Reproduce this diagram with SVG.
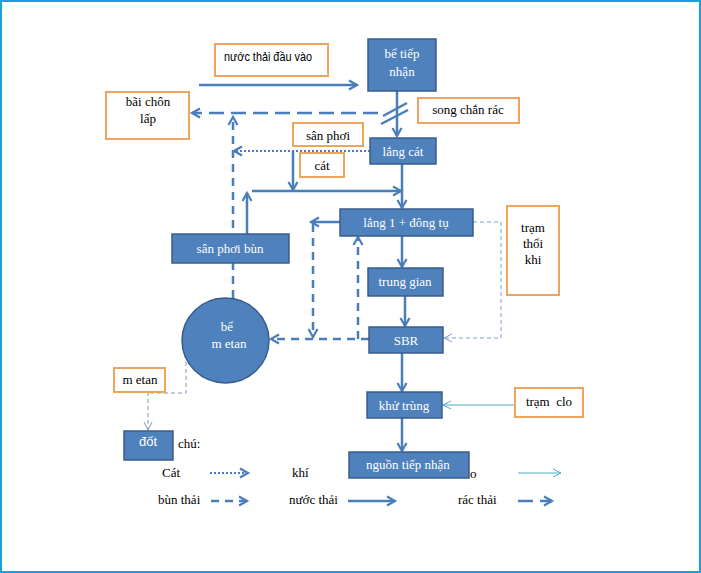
<svg xmlns="http://www.w3.org/2000/svg" width="701" height="573" viewBox="0 0 701 573">
<defs>
<marker id="ah" markerUnits="userSpaceOnUse" markerWidth="14" markerHeight="14" refX="10" refY="6" orient="auto">
<path d="M2,1.5 L10,6 L2,10.5" fill="none" stroke="#4A7EBB" stroke-width="2.2"/>
</marker>
<marker id="ahThin" markerUnits="userSpaceOnUse" markerWidth="14" markerHeight="14" refX="10" refY="6" orient="auto">
<path d="M2,2 L10,6 L2,10" fill="none" stroke="#7F9FCF" stroke-width="1"/>
</marker>
<marker id="ahClo" markerUnits="userSpaceOnUse" markerWidth="14" markerHeight="14" refX="10" refY="6" orient="auto">
<path d="M2,2 L10,6 L2,10" fill="none" stroke="#4BACC6" stroke-width="1"/>
</marker>
<marker id="ahGray" markerUnits="userSpaceOnUse" markerWidth="14" markerHeight="14" refX="10" refY="6" orient="auto">
<path d="M2,2 L10,6 L2,10" fill="none" stroke="#8096B4" stroke-width="1"/>
</marker>
</defs>
<style>
.blue{fill:#4F81BD;stroke:#385D8A;stroke-width:1.5}
.orange{fill:#FFFFFF;stroke:#EDA45C;stroke-width:2}
.wt{font-family:"Liberation Serif",serif;font-size:13px;fill:#FFFFFF;text-anchor:middle}
.bt{font-family:"Liberation Serif",serif;font-size:13px;fill:#000000;text-anchor:middle}
.lt{font-family:"Liberation Serif",serif;font-size:13px;fill:#000000}
.sans{font-family:"Liberation Sans",sans-serif}
.solid{fill:none;stroke:#4A7EBB;stroke-width:2.5;marker-end:url(#ah)}
.plain{fill:none;stroke:#4A7EBB;stroke-width:2.5}
.mud{fill:none;stroke:#4A7EBB;stroke-width:2.5;stroke-dasharray:8,6;marker-end:url(#ah)}
.trash{fill:none;stroke:#4A7EBB;stroke-width:2.5;stroke-dasharray:15,7;marker-end:url(#ah)}
.sand{fill:none;stroke:#4A7EBB;stroke-width:2;stroke-dasharray:2,2;marker-end:url(#ah)}
.air{fill:none;stroke:#7F9FCF;stroke-width:1;stroke-dasharray:4,3;marker-end:url(#ahThin)}
.clo{fill:none;stroke:#4BACC6;stroke-width:1;marker-end:url(#ahClo)}
.gas{fill:none;stroke:#8096B4;stroke-width:1;stroke-dasharray:4,3}
</style>
<rect x="1" y="1" width="699" height="571" fill="#FFFFFF" stroke="#1E9FDB" stroke-width="2"/>

<g id="connectors">
<path class="solid" d="M199,85 H357"/>
<path class="solid" d="M397,91 V136"/>
<path class="plain" d="M383,116 L407,103" stroke-width="2"/>
<path class="plain" d="M381,124 L408,110" stroke-width="2"/>
<path class="trash" d="M378,113 H192"/>
<path class="mud" d="M233,298 V117"/>
<path class="sand" d="M370,151 H234"/>
<path class="solid" d="M293,151 V190"/>
<path class="solid" d="M252,191 H401"/>
<path class="solid" d="M247,234 V193"/>
<path class="solid" d="M402,164 V208"/>
<path class="solid" d="M340,222 H311"/>
<path class="mud" d="M313,224 V337"/>
<path class="mud" d="M369,339 H271"/>
<path class="mud" d="M358,339 V237"/>
<path class="solid" d="M402,236 V267"/>
<path class="solid" d="M405,296 V326"/>
<path class="air" d="M473,222 H501 V338 H444"/>
<path class="solid" d="M402,353 V391"/>
<path class="solid" d="M402,418 V451"/>
<path class="clo" d="M515,405 H443"/>
<path class="gas" d="M186,362 V393 H148"/>
<path class="gas" d="M148,392 V430" marker-end="url(#ahGray)"/>
<!-- legend arrows -->
<path class="sand" d="M210,473 H248"/>
<path class="mud" d="M211,501 H247"/>
<path class="solid" d="M348,501 H395"/>
<path class="trash" d="M518,501 H552"/>
<path class="clo" d="M518,473 H561"/>
</g>

<g id="nuoc-thai-dau-vao"><rect class="orange" x="215" y="44" width="113" height="32"/><text class="lt sans" x="224" y="61" font-size="11.5" textLength="88" lengthAdjust="spacingAndGlyphs">nước thải đầu vào</text></g>
<g id="be-tiep-nhan"><rect class="blue" x="368" y="39" width="68" height="52"/><text class="wt" x="402" y="58">bể tiếp</text><text class="wt" x="402" y="76">nhận</text></g>
<g id="bai-chon-lap"><rect class="orange" x="106" y="92" width="83" height="47"/><text class="bt" x="148" y="106">bãi chôn</text><text class="bt" x="148" y="123">lấp</text></g>
<g id="song-chan-rac"><rect class="orange" x="418" y="98" width="101" height="25"/><text class="bt" x="468" y="114">song chắn rác</text></g>
<g id="san-phoi"><rect class="orange" x="293" y="123" width="70" height="23"/><text class="bt" x="328" y="140">sân phơi</text></g>
<g id="lang-cat"><rect class="blue" x="370" y="138" width="66" height="26"/><text class="wt" x="403" y="156">lắng cát</text></g>
<g id="cat"><rect class="orange" x="300" y="153" width="44" height="24"/><text class="bt" x="322" y="170">cát</text></g>
<g id="lang1-dong-tu"><rect class="blue" x="340" y="209" width="133" height="27"/><text class="wt" x="406" y="227">lắng 1 + đông tụ</text></g>
<g id="tram-thoi-khi"><rect class="orange" x="507" y="206" width="52" height="89"/><text class="bt" x="533" y="232">trạm</text><text class="bt" x="533" y="248">thổi</text><text class="bt" x="533" y="264">khi</text></g>
<g id="san-phoi-bun"><rect class="blue" x="172" y="234" width="117" height="29"/><text class="wt" x="230" y="253">sân phơi bùn</text></g>
<g id="trung-gian"><rect class="blue" x="368" y="268" width="75" height="28"/><text class="wt" x="405" y="286">trung gian</text></g>
<g id="sbr"><rect class="blue" x="369" y="327" width="74" height="26"/><text class="wt" x="406" y="345">SBR</text></g>
<g id="be-metan"><ellipse class="blue" cx="225.5" cy="340.5" rx="43.5" ry="42.5"/><text class="wt" x="227" y="331">bể</text><text class="wt" x="229" y="348">m etan</text></g>
<g id="metan"><rect class="orange" x="114" y="368" width="51" height="24"/><text class="bt" x="140" y="384">m etan</text></g>
<g id="khu-trung"><rect class="blue" x="367" y="392" width="75" height="26"/><text class="wt" x="404" y="410">khử trùng</text></g>
<g id="tram-clo"><rect class="orange" x="515" y="388" width="68" height="29"/><text class="bt" x="549" y="406" xml:space="preserve">trạm  clo</text></g>
<g id="legend">
<text class="lt" x="178" y="448">chú:</text>
<text class="lt" x="162" y="477">Cát</text>
<text class="lt" x="292" y="477">khí</text>
<text class="lt" x="470" y="478">o</text>
<text class="lt" x="158" y="504">bùn thải</text>
<text class="lt" x="289" y="504">nước thải</text>
<text class="lt" x="458" y="504">rác thải</text>
</g>
<g id="dot"><rect class="blue" x="124" y="431" width="49" height="29"/><text class="wt sans" x="148" y="446" font-size="12">đốt</text></g>
<g id="nguon-tiep-nhan"><rect class="blue" x="349" y="452" width="120" height="26"/><text class="wt" x="408" y="469">nguồn tiếp nhận</text></g>
</svg>
